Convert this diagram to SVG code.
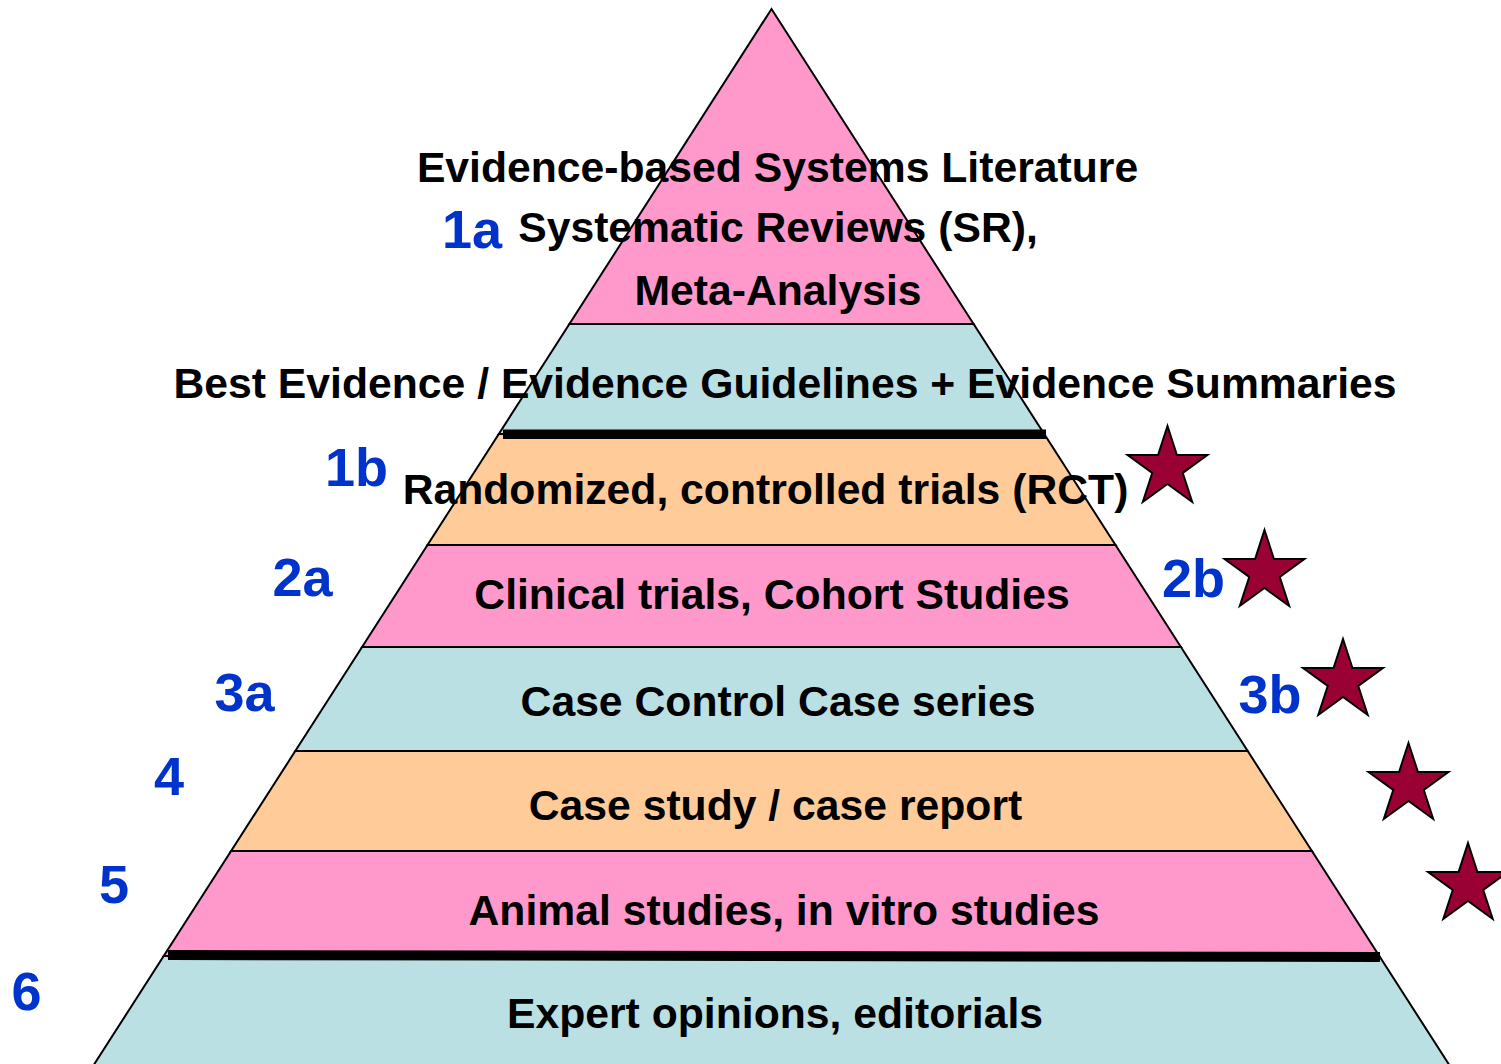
<svg xmlns="http://www.w3.org/2000/svg" width="1501" height="1064" viewBox="0 0 1501 1064">
<defs>
<style>
.band{stroke:#000;stroke-width:2;stroke-linejoin:miter}
.pink{fill:#FF99CC}
.cyan{fill:#BBE0E3}
.orange{fill:#FFCC99}
.t{font-family:"Liberation Sans",Arial,sans-serif;font-weight:bold;font-size:42.7px;fill:#000;text-anchor:middle}
.n{font-family:"Liberation Sans",Arial,sans-serif;font-weight:bold;font-size:54px;fill:#0033CC;text-anchor:middle}
.star{fill:#990033;stroke:#000;stroke-width:2;stroke-linejoin:miter}
</style>
<path id="star" d="M0,-42 L9.43,-12.98 L39.94,-12.98 L15.26,4.96 L24.69,33.98 L0,16.04 L-24.69,33.98 L-15.26,4.96 L-39.94,-12.98 L-9.43,-12.98 Z"/>
</defs>
<rect width="1501" height="1064" fill="#fff"/>
<g id="pyramid">
<polygon id="band1" class="band pink" points="771.5,9 973.6,324 569.4,324"/>
<polygon id="band2" class="band cyan" points="569.4,324 973.6,324 1044.2,434 498.8,434"/>
<polygon id="band3" class="band orange" points="498.8,434 1044.2,434 1115.5,545 427.5,545"/>
<polygon id="band4" class="band pink" points="427.5,545 1115.5,545 1180.9,647 362.1,647"/>
<polygon id="band5" class="band cyan" points="362.1,647 1180.9,647 1247.7,751 295.3,751"/>
<polygon id="band6" class="band orange" points="295.3,751 1247.7,751 1311.9,851 231.1,851"/>
<polygon id="band7" class="band pink" points="231.1,851 1311.9,851 1379.3,956 163.7,956"/>
<polygon id="band8" class="band cyan" points="163.7,956 1379.3,956 1452.5,1070 90.5,1070"/>
<rect x="503" y="429.5" width="543" height="9.5" fill="#000"/>
<polygon points="168,950 1380,952 1380,962 168,960" fill="#000"/>
</g>
<g id="labels">
<text class="t" x="777.5" y="182">Evidence-based Systems Literature</text>
<text class="t" x="778" y="242">Systematic Reviews (SR),</text>
<text class="t" x="778" y="305">Meta-Analysis</text>
<text class="t" x="785" y="398">Best Evidence / Evidence Guidelines + Evidence Summaries</text>
<text class="t" x="765.5" y="504">Randomized, controlled trials (RCT)</text>
<text class="t" x="772" y="609">Clinical trials, Cohort Studies</text>
<text class="t" x="778" y="716">Case Control Case series</text>
<text class="t" x="775.5" y="820">Case study / case report</text>
<text class="t" x="784" y="925">Animal studies, in vitro studies</text>
<text class="t" x="775" y="1028">Expert opinions, editorials</text>
</g>
<g id="levels">
<text class="n" x="472" y="248">1a</text>
<text class="n" x="356.5" y="486">1b</text>
<text class="n" x="302.5" y="596">2a</text>
<text class="n" x="1193.5" y="597">2b</text>
<text class="n" x="244.5" y="711">3a</text>
<text class="n" x="1270" y="713">3b</text>
<text class="n" x="169" y="795">4</text>
<text class="n" x="114" y="903">5</text>
<text class="n" x="26.5" y="1010">6</text>
</g>
<g id="stars">
<use href="#star" class="star" transform="translate(1167.5,468)"/>
<use href="#star" class="star" transform="translate(1264.5,572)"/>
<use href="#star" class="star" transform="translate(1343,681)"/>
<use href="#star" class="star" transform="translate(1408.5,785)"/>
<use href="#star" class="star" transform="translate(1468,885)"/>
</g>
</svg>
